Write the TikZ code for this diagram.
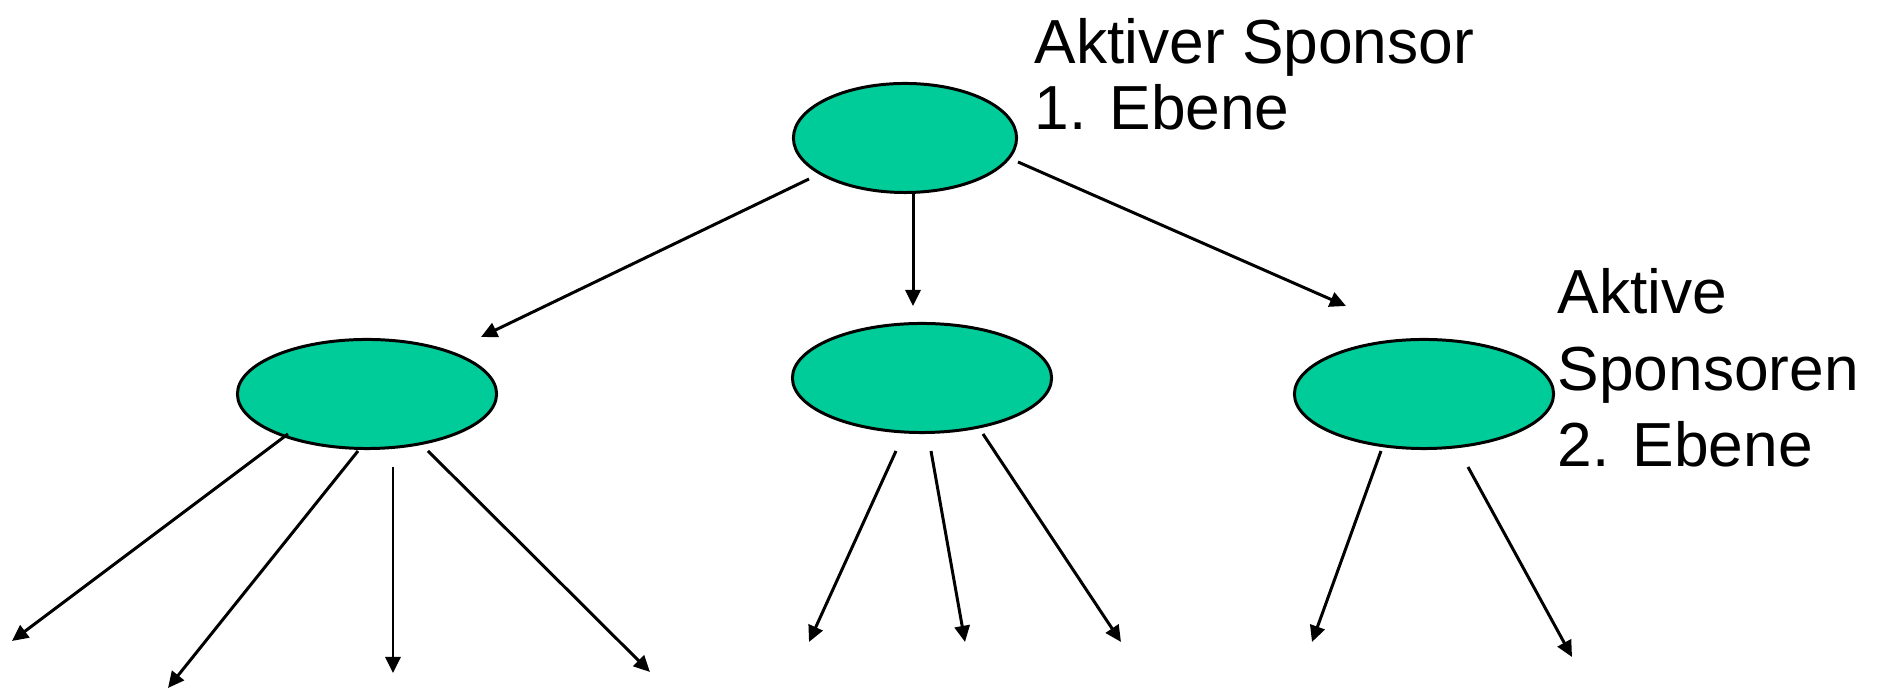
\documentclass[tikz,border=0pt]{standalone}
\usepackage{fontspec}
\setmainfont{Liberation Sans}
\usetikzlibrary{shapes.geometric,arrows.meta}
\definecolor{sponsorgreen}{RGB}{0,204,153}

\begin{document}
\begin{tikzpicture}[x=0.01cm,y=-0.01cm,
    sponsor/.style={ellipse,draw,fill=sponsorgreen,line width=0.85pt,inner sep=0pt,minimum height=1.09cm},
    link/.style={line width=0.85pt,-{Triangle[length=4.6pt,width=4.3pt]}},
    lbl/.style={anchor=base west,inner sep=0pt,align=left}]
  \useasboundingbox (0,0) rectangle (1881,689);
  %ellipses
  \node[sponsor,minimum width=2.23cm] (s0) at (905,138) {};
  \node[sponsor,minimum width=2.59cm] (s1) at (367,394) {};
  \node[sponsor,minimum width=2.59cm] (s2) at (922,378) {};
  \node[sponsor,minimum width=2.59cm] (s3) at (1424,394) {};
  %labels, placed at the baseline of their last line
  \node[lbl,font=\fontsize{17.7}{19}\selectfont] (t0) at (1034,130) {Aktiver Sponsor\\1. Ebene};
  \node[lbl,font=\fontsize{17.7}{21.8}\selectfont] (t1) at (1557,467) {Aktive\\Sponsoren\\2. Ebene};
  %arrow ends
  \coordinate (a1) at (809,179);  \coordinate (a1p) at (481,337);
  \coordinate (a2) at (913,194);  \coordinate (a2p) at (913,306);
  \coordinate (a3) at (1018,162); \coordinate (a3p) at (1346,306);
  \coordinate (b1) at (288,434);  \coordinate (b1p) at (12,641);
  \coordinate (b2) at (358,451);  \coordinate (b2p) at (168,688);
  \coordinate (b3) at (393,467);  \coordinate (b3p) at (393,673);
  \coordinate (b4) at (428,451);  \coordinate (b4p) at (650,672);
  \coordinate (c1) at (896,451);  \coordinate (c1p) at (809,642);
  \coordinate (c2) at (931,451);  \coordinate (c2p) at (965,642);
  \coordinate (c3) at (983,434);  \coordinate (c3p) at (1121,642);
  \coordinate (d1) at (1381,451); \coordinate (d1p) at (1312,642);
  \coordinate (d2) at (1468,467); \coordinate (d2p) at (1572,657);
  %first level
  \draw[link] (a1) -- (a1p);
  \draw[link] (a2) -- (a2p);
  \draw[link] (a3) -- (a3p);
  %second level
  \draw[link] (b1) -- (b1p);
  \draw[link] (b2) -- (b2p);
  \draw[link] (b3) -- (b3p);
  \draw[link] (b4) -- (b4p);
  \draw[link] (c1) -- (c1p);
  \draw[link] (c2) -- (c2p);
  \draw[link] (c3) -- (c3p);
  \draw[link] (d1) -- (d1p);
  \draw[link] (d2) -- (d2p);
\end{tikzpicture}
\end{document}
